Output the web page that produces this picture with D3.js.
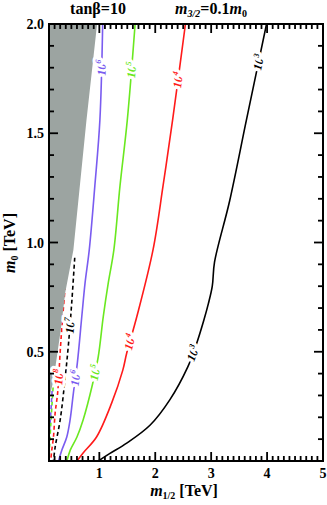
<!DOCTYPE html>
<html><head><meta charset="utf-8">
<script src="https://cdn.jsdelivr.net/npm/d3@7"></script>
<style>
body{margin:0;background:#fff;}
svg{display:block;}
text{font-family:"Liberation Serif","DejaVu Serif",serif;}
</style></head>
<body><svg id="c" width="327" height="505"></svg>
<script>
// ---- data (m1/2 [TeV], m0 [TeV]) ----
const xTickValues = [1,2,3,4,5];
const xTickLabels = ["1","2","3","4","5"];
const yTickValues = [0.5,1.0,1.5,2.0];
const yTickLabels = ["0.5","1.0","1.5","2.0"];
const excludedRegion = [[0.1,2.0],[0.96,2.0],[0.77,1.56],[0.536,0.966],[0.39,0.77],[0.31,0.6],[0.18,0.37],[0.1,0.28]];
const line1e3 = [[3.99,2.0],[3.63,1.56],[3.33,1.19],[3.06,0.91],[3.02,0.80],[2.95,0.72],[2.87,0.645],[2.73,0.53],[2.58,0.43],[2.26,0.28],[1.91,0.165],[1.49,0.082],[1.19,0.035],[0.98,0.0]];
const line1e4 = [[2.54,2.0],[2.31,1.56],[2.14,1.26],[1.96,0.966],[1.67,0.66],[1.49,0.494],[1.42,0.416],[1.22,0.265],[0.95,0.11],[0.71,0.037],[0.60,0.0]];
const line1e5 = [[1.64,2.0],[1.50,1.56],[1.37,1.26],[1.26,0.966],[1.16,0.815],[1.07,0.66],[0.98,0.476],[0.875,0.348],[0.71,0.188],[0.60,0.11],[0.48,0.05],[0.42,0.0]];
const line1e6 = [[1.06,2.0],[1.01,1.56],[0.92,1.26],[0.82,0.966],[0.745,0.815],[0.686,0.66],[0.607,0.449],[0.536,0.311],[0.477,0.188],[0.418,0.11],[0.33,0.05],[0.27,0.0]];
const line1e7 = [[0.56,0.93],[0.51,0.737],[0.45,0.54],[0.39,0.384],[0.30,0.188],[0.21,0.064],[0.18,0.0]];
const line1e8 = [[0.39,0.80],[0.33,0.61],[0.30,0.50],[0.254,0.31],[0.21,0.22],[0.18,0.11],[0.15,0.05],[0.13,0.0]];
const line1e9 = [[0.19,0.40],[0.155,0.265],[0.128,0.15],[0.11,0.064],[0.10,0.0]];
const line1e10 = [[0.155,0.32],[0.13,0.21],[0.11,0.14],[0.1,0.10]];
const contours = [
  {exp:"3", pts:line1e3, color:"#000000", dash:null, labels:[1.826,0.494]},
  {exp:"4", pts:line1e4, color:"#ff1a1a", dash:null, labels:[1.744,0.545]},
  {exp:"5", pts:line1e5, color:"#6ae820", dash:null, labels:[1.79,0.405]},
  {exp:"6", pts:line1e6, color:"#7a5cf0", dash:null, labels:[1.80,0.38]},
  {exp:"7", pts:line1e7, color:"#000000", dash:"4,3", labels:[0.62]},
  {exp:"8", pts:line1e8, color:"#ff1a1a", dash:"4,3", labels:[0.384]},
  {exp:"9", pts:line1e9, color:"#6ae820", dash:"4,3", labels:[]},
  {exp:"10", pts:line1e10, color:"#7a5cf0", dash:"4,3", labels:[]}
];

// ---- layout ----
const L=49,R=323,T=24,B=461;
const x = d3.scaleLinear().domain([0.1,5]).range([L,R]);
const y = d3.scaleLinear().domain([0,2]).range([B,T]);
const svg = d3.select("#c");

const defs = svg.append("defs");
defs.append("clipPath").attr("id","plotclip").append("rect")
  .attr("x",L).attr("y",T).attr("width",R-L).attr("height",B-T);

const minorX = d3.range(2,50).map(i=>i/10).filter(v=>!xTickValues.some(t=>Math.abs(t-v)<1e-9));
const minorY = d3.range(1,20).map(i=>i/10).filter(v=>!yTickValues.some(t=>Math.abs(t-v)<1e-9));

const plot = svg.append("g").attr("clip-path","url(#plotclip)");
const lineGen = d3.line().x(d=>x(d[0])).y(d=>y(d[1])).curve(d3.curveCatmullRom.alpha(0.5));

contours.forEach(c=>{
  plot.append("path").attr("d",lineGen(c.pts)).attr("fill","none")
    .attr("stroke",c.color).attr("stroke-width",1.6)
    .attr("stroke-dasharray",c.dash);
});

plot.append("path").attr("d",d3.line().x(d=>x(d[0])).y(d=>y(d[1]))(excludedRegion)+"Z")
  .attr("fill","#9ca4a1").attr("stroke","none");

function pointAt(pts, m0){
  for(let i=0;i<pts.length-1;i++){
    const a=pts[i], b=pts[i+1];
    if((a[1]-m0)*(b[1]-m0)<=0){
      const t=(m0-a[1])/(b[1]-a[1]);
      const px=x(a[0]+(b[0]-a[0])*t), py=y(m0);
      const ang=Math.atan2(y(a[1])-y(b[1]), x(a[0])-x(b[0]))*180/Math.PI;
      return [px,py,ang];
    }
  }
  return null;
}
contours.forEach(c=>{
  c.labels.forEach(m0=>{
    const p=pointAt(c.pts,m0); if(!p) return;
    const g=plot.append("g").attr("transform",`translate(${p[0]},${p[1]}) rotate(${p[2]})`);
    const t=g.append("text").attr("text-anchor","middle").attr("dy","0.35em")
      .attr("font-size",12).attr("font-style","italic").attr("font-weight","bold")
      .attr("fill",c.color).attr("stroke","#fff").attr("stroke-width",6)
      .attr("paint-order","stroke").attr("stroke-linejoin","round");
    t.append("tspan").text("10");
    t.append("tspan").attr("dy",-5).attr("font-size",8).text(c.exp);
  });
});

// ticks as filled rectangles (inward), positioned by the scales
const tickG = svg.append("g").attr("fill","#000");
function xTicks(vals,len){
  tickG.selectAll(null).data(vals).enter().append("rect")
    .attr("x",d=>x(d)-0.9).attr("y",B-len).attr("width",1.8).attr("height",len);
  tickG.selectAll(null).data(vals).enter().append("rect")
    .attr("x",d=>x(d)-0.9).attr("y",T).attr("width",1.8).attr("height",len);
}
function yTicks(vals,len){
  tickG.selectAll(null).data(vals).enter().append("rect")
    .attr("y",d=>y(d)-0.9).attr("x",L).attr("height",1.8).attr("width",len);
  tickG.selectAll(null).data(vals).enter().append("rect")
    .attr("y",d=>y(d)-0.9).attr("x",R-len).attr("height",1.8).attr("width",len);
}
xTicks(xTickValues,9); xTicks(minorX,5);
yTicks(yTickValues,9); yTicks(minorY,5);

svg.append("rect").attr("x",L).attr("y",T).attr("width",R-L).attr("height",B-T)
  .attr("fill","none").attr("stroke","#000").attr("stroke-width",2);

svg.append("g").selectAll("text").data(xTickValues).enter().append("text")
  .attr("x",d=>x(d)).attr("y",478).attr("text-anchor","middle")
  .attr("font-size",14).attr("font-weight","bold").text((d,i)=>xTickLabels[i]);
svg.append("g").selectAll("text").data(yTickValues).enter().append("text")
  .attr("x",L-5).attr("y",d=>y(d)+5).attr("text-anchor","end")
  .attr("font-size",14).attr("font-weight","bold").text((d,i)=>yTickLabels[i]);

svg.append("text").attr("x",98).attr("y",14).attr("text-anchor","middle")
  .attr("font-size",16).attr("font-weight","bold").text("tanβ=10");
const t2=svg.append("text").attr("x",211).attr("y",14).attr("text-anchor","middle")
  .attr("font-size",16).attr("font-weight","bold");
t2.append("tspan").attr("font-style","italic").text("m");
t2.append("tspan").attr("font-size",10).attr("dy",3).attr("font-style","italic").text("3/2");
t2.append("tspan").attr("dy",-3).text("=0.1");
t2.append("tspan").attr("font-style","italic").text("m");
t2.append("tspan").attr("font-size",10).attr("dy",3).text("0");

const xl=svg.append("text").attr("x",184).attr("y",496).attr("text-anchor","middle")
  .attr("font-size",16).attr("font-weight","bold");
xl.append("tspan").attr("font-style","italic").text("m");
xl.append("tspan").attr("font-size",10).attr("dy",3).text("1/2");
xl.append("tspan").attr("dy",-3).text(" [TeV]");

const yl=svg.append("text").attr("transform","translate(15,243) rotate(-90)").attr("text-anchor","middle")
  .attr("font-size",16).attr("font-weight","bold");
yl.append("tspan").attr("font-style","italic").text("m");
yl.append("tspan").attr("font-size",10).attr("dy",3).text("0");
yl.append("tspan").attr("dy",-3).text(" [TeV]");
</script></body></html>
